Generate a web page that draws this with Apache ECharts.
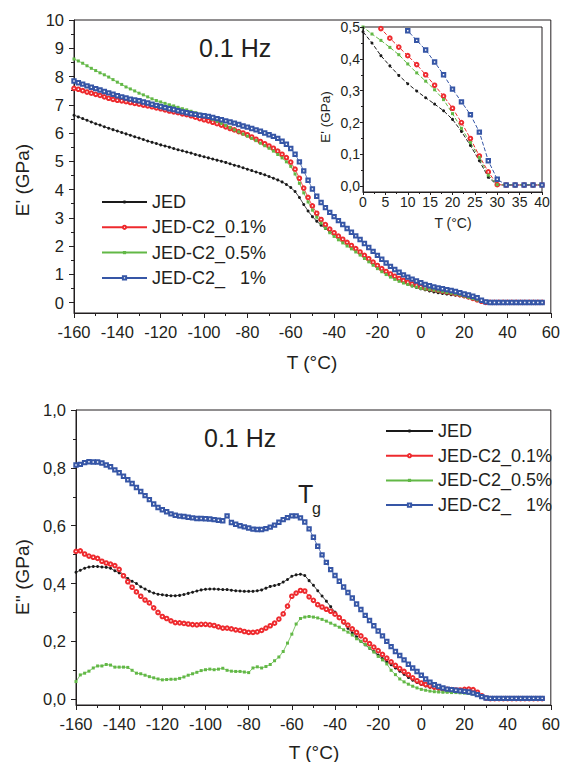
<!DOCTYPE html>
<html><head><meta charset="utf-8">
<script src="https://cdn.jsdelivr.net/npm/echarts@6/dist/echarts.min.js"></script>
<style>html,body{margin:0;padding:0;background:#fff}#c{width:563px;height:762px}</style>
</head><body><div id="c"></div>
<script>
// Temperature grid (°C)
const temps = [
-160,-158,-156,-154,-152,-150,-148,-146,-144,-142,
-140,-138,-136,-134,-132,-130,-128,-126,-124,-122,
-120,-118,-116,-114,-112,-110,-108,-106,-104,-102,
-100,-98,-96,-94,-92,-90,-88,-86,-84,-82,
-80,-78,-76,-74,-72,-70,-68,-66,-64,-62,
-60,-58,-56,-54,-52,-50,-48,-46,-44,-42,
-40,-38,-36,-34,-32,-30,-28,-26,-24,-22,
-20,-18,-16,-14,-12,-10,-8,-6,-4,-2,
0,2,4,6,8,10,12,14,16,18,
20,22,24,26,28,30,32,34,36,38,
40,42,44,46,48,50,52,54,56];

const seriesNames = ['JED','JED-C2_0.1%','JED-C2_0.5%','JED-C2_\u00a0\u00a0\u00a01%'];

// E' storage modulus (GPa)
const storageJED = [
6.63,6.57,6.51,6.45,6.39,6.33,6.28,6.22,6.17,6.12,
6.07,6.02,5.97,5.92,5.87,5.82,5.77,5.72,5.67,5.63,
5.58,5.54,5.50,5.45,5.41,5.37,5.33,5.29,5.24,5.20,
5.16,5.12,5.08,5.04,5.00,4.96,4.91,4.86,4.82,4.77,
4.72,4.67,4.62,4.57,4.52,4.46,4.40,4.34,4.27,4.18,
4.07,3.93,3.72,3.47,3.24,3.04,2.88,2.74,2.62,2.51,
2.42,2.32,2.22,2.12,2.02,1.92,1.80,1.66,1.52,1.38,
1.26,1.14,1.04,0.95,0.87,0.79,0.72,0.65,0.59,0.535,
0.485,0.45,0.41,0.378,0.348,0.322,0.299,0.278,0.258,0.237,
0.21,0.172,0.128,0.08,0.028,0.004,0.004,0.004,0.004,0.004,
0.004,0.004,0.004,0.004,0.004,0.004,0.004,0.004,0.004];
const storageC2_01 = [
7.58,7.55,7.50,7.45,7.41,7.37,7.33,7.28,7.23,7.19,
7.16,7.14,7.11,7.08,7.05,7.02,6.99,6.96,6.93,6.89,
6.86,6.82,6.78,6.75,6.72,6.68,6.65,6.61,6.56,6.51,
6.47,6.43,6.38,6.33,6.28,6.22,6.16,6.11,6.05,6.00,
5.94,5.86,5.78,5.70,5.62,5.54,5.46,5.36,5.25,5.13,
4.97,4.72,4.40,4.05,3.72,3.42,3.16,2.94,2.76,2.60,
2.47,2.35,2.24,2.13,2.02,1.91,1.79,1.67,1.55,1.43,
1.31,1.20,1.10,1.01,0.93,0.85,0.78,0.72,0.66,0.61,
0.56,0.525,0.495,0.465,0.437,0.41,0.382,0.35,0.317,0.283,
0.245,0.2,0.15,0.095,0.045,0.005,0.004,0.004,0.004,0.004,
0.004,0.004,0.004,0.004,0.004,0.004,0.004,0.004,0.004];
const storageC2_05 = [
8.62,8.55,8.47,8.38,8.29,8.21,8.13,8.06,7.98,7.89,
7.80,7.72,7.63,7.56,7.49,7.41,7.35,7.28,7.21,7.15,
7.10,7.05,7.00,6.96,6.91,6.86,6.82,6.77,6.72,6.67,
6.61,6.55,6.48,6.41,6.34,6.27,6.19,6.11,6.04,5.96,
5.89,5.81,5.73,5.64,5.55,5.46,5.36,5.24,5.12,4.98,
4.82,4.55,4.22,3.88,3.56,3.27,3.02,2.81,2.63,2.47,
2.34,2.22,2.11,2.00,1.90,1.79,1.68,1.56,1.44,1.32,
1.20,1.09,0.99,0.90,0.82,0.75,0.69,0.64,0.59,0.545,
0.50,0.478,0.458,0.436,0.413,0.384,0.356,0.33,0.303,0.272,
0.228,0.182,0.137,0.09,0.035,0.005,0.005,0.005,0.005,0.005,
0.005,0.005,0.005,0.005,0.005,0.005,0.005,0.005,0.005];
const storageC2_1 = [
7.84,7.78,7.73,7.67,7.62,7.57,7.52,7.47,7.42,7.37,
7.32,7.28,7.24,7.20,7.17,7.14,7.10,7.06,7.02,6.98,
6.94,6.90,6.86,6.83,6.79,6.75,6.72,6.68,6.66,6.63,
6.61,6.59,6.55,6.51,6.47,6.43,6.39,6.35,6.30,6.25,
6.21,6.16,6.11,6.06,6.00,5.94,5.88,5.81,5.71,5.60,
5.45,5.25,4.98,4.66,4.33,4.02,3.76,3.54,3.36,3.19,
3.04,2.90,2.76,2.62,2.49,2.36,2.23,2.09,1.95,1.81,
1.67,1.53,1.40,1.28,1.17,1.07,0.98,0.90,0.83,0.76,
0.70,0.64,0.595,0.555,0.52,0.488,0.458,0.428,0.39,0.35,
0.305,0.265,0.225,0.17,0.08,0.022,0.004,0.004,0.004,0.004,
0.004,0.004,0.004,0.004,0.004,0.004,0.004,0.004,0.004];

// E'' loss modulus (GPa)
const lossJED = [
0.439,0.446,0.453,0.457,0.459,0.459,0.457,0.456,0.453,0.444,
0.437,0.429,0.417,0.408,0.400,0.389,0.381,0.373,0.367,0.363,
0.361,0.359,0.358,0.358,0.359,0.362,0.366,0.370,0.374,0.378,
0.380,0.381,0.381,0.380,0.379,0.379,0.377,0.375,0.374,0.373,
0.373,0.373,0.375,0.378,0.384,0.390,0.393,0.397,0.405,0.414,
0.425,0.430,0.432,0.428,0.410,0.394,0.375,0.357,0.339,0.320,
0.301,0.283,0.264,0.245,0.230,0.216,0.200,0.188,0.176,0.165,
0.153,0.141,0.130,0.119,0.108,0.097,0.086,0.075,0.066,0.058,
0.051,0.046,0.041,0.038,0.035,0.032,0.030,0.028,0.026,0.025,
0.024,0.023,0.020,0.015,0.008,0.003,0.002,0.002,0.002,0.002,
0.002,0.002,0.002,0.002,0.002,0.002,0.002,0.002,0.002];
const lossC2_01 = [
0.511,0.513,0.502,0.495,0.491,0.487,0.477,0.471,0.467,0.462,
0.449,0.427,0.406,0.387,0.371,0.356,0.343,0.333,0.316,0.300,
0.286,0.279,0.271,0.265,0.264,0.262,0.260,0.258,0.257,0.259,
0.259,0.257,0.255,0.250,0.246,0.246,0.243,0.240,0.238,0.234,
0.231,0.231,0.233,0.238,0.246,0.254,0.263,0.277,0.295,0.322,
0.356,0.367,0.376,0.374,0.354,0.342,0.327,0.319,0.311,0.304,
0.294,0.282,0.268,0.256,0.243,0.231,0.219,0.205,0.192,0.180,
0.168,0.155,0.142,0.129,0.117,0.106,0.096,0.085,0.074,0.064,
0.056,0.051,0.046,0.042,0.039,0.036,0.034,0.033,0.032,0.032,
0.034,0.035,0.033,0.024,0.012,0.004,0.002,0.002,0.002,0.002,
0.002,0.002,0.002,0.002,0.002,0.002,0.002,0.002,0.002];
const lossC2_05 = [
0.061,0.084,0.090,0.097,0.108,0.115,0.115,0.120,0.118,0.111,
0.111,0.111,0.110,0.100,0.090,0.088,0.083,0.078,0.074,0.070,
0.067,0.068,0.069,0.069,0.072,0.077,0.083,0.088,0.093,0.099,
0.102,0.104,0.102,0.104,0.107,0.100,0.097,0.096,0.096,0.094,
0.092,0.108,0.112,0.108,0.113,0.120,0.133,0.146,0.165,0.194,
0.225,0.260,0.279,0.284,0.286,0.284,0.281,0.276,0.270,0.263,
0.256,0.249,0.240,0.232,0.222,0.209,0.200,0.189,0.177,0.163,
0.148,0.136,0.122,0.100,0.085,0.070,0.060,0.052,0.045,0.039,
0.034,0.031,0.028,0.026,0.025,0.024,0.024,0.023,0.023,0.022,
0.021,0.020,0.018,0.014,0.008,0.003,0.002,0.002,0.002,0.002,
0.002,0.002,0.002,0.002,0.002,0.002,0.002,0.002,0.002];
const lossC2_1 = [
0.810,0.812,0.818,0.821,0.820,0.820,0.817,0.810,0.804,0.793,
0.783,0.771,0.759,0.746,0.732,0.718,0.704,0.690,0.675,0.663,
0.655,0.648,0.641,0.636,0.633,0.632,0.629,0.627,0.625,0.625,
0.624,0.623,0.621,0.619,0.617,0.634,0.611,0.605,0.600,0.596,
0.592,0.588,0.587,0.587,0.590,0.595,0.602,0.612,0.621,0.628,
0.634,0.634,0.627,0.613,0.589,0.560,0.529,0.499,0.473,0.448,
0.428,0.408,0.388,0.369,0.350,0.329,0.310,0.290,0.272,0.254,
0.236,0.219,0.200,0.182,0.165,0.151,0.136,0.121,0.108,0.096,
0.083,0.070,0.059,0.050,0.044,0.039,0.035,0.033,0.031,0.029,
0.027,0.025,0.021,0.016,0.009,0.004,0.003,0.003,0.003,0.003,
0.003,0.003,0.003,0.003,0.003,0.003,0.003,0.003,0.003];

// Tick values
const storageTicks = [0,1,2,3,4,5,6,7,8,9,10];
const storageMinorTicks = [0.5,1.5,2.5,3.5,4.5,5.5,6.5,7.5,8.5,9.5];
const lossTicks = [0,0.2,0.4,0.6,0.8,1.0];
const lossMinorTicks = [0.1,0.3,0.5,0.7,0.9];
const insetYTicks = [0,0.1,0.2,0.3,0.4,0.5];
const insetYMinorTicks = [0.05,0.15,0.25,0.35,0.45];

const storageSets = [storageJED, storageC2_01, storageC2_05, storageC2_1];
const lossSets = [lossJED, lossC2_01, lossC2_05, lossC2_1];

const FONT = "'Liberation Sans', Arial, Helvetica, sans-serif";
const INK = '#231f20';
const styles = [
  {color:'#1a1a1a', symbol:'circle', size:3, bw:0},
  {color:'#ee2a2e', symbol:'emptyCircle', size:3.6, bw:0.8},
  {color:'#62b846', symbol:'rect', size:3, bw:0},
  {color:'#3656a6', symbol:'emptyRect', size:3.4, bw:0.8}
];
function pairs(vals){ return temps.map(function(t,i){ return [t, vals[i]]; }); }
const comma = function(v){ return v.toFixed(1).replace('.', ','); };

function xAxis(grid, min, max, interval, fs, margin, tl, ml){
  return {type:'value', gridIndex:grid, min:min, max:max, interval:interval,
    axisLine:{show:true, onZero:false, lineStyle:{color:INK, width:1}},
    axisTick:{show:true, inside:false, length:tl, lineStyle:{color:INK}},
    minorTick:{show:true, splitNumber:2, length:ml, lineStyle:{color:INK}},
    splitLine:{show:false}, minorSplitLine:{show:false},
    axisLabel:{fontSize:fs, color:INK, fontFamily:FONT, margin:margin}};
}
function yAxis(grid, min, max, ticks, fmt, fs, margin, tl){
  return {type:'value', gridIndex:grid, min:min, max:max, position:'left',
    axisLine:{show:true, onZero:false, lineStyle:{color:INK, width:1}},
    axisTick:{show:true, inside:false, length:tl, customValues:ticks, lineStyle:{color:INK}},
    splitLine:{show:false},
    axisLabel:{customValues:ticks, formatter:fmt, fontSize:fs, color:INK, fontFamily:FONT, margin:margin}};
}
function yMinor(grid, min, max, ticks, tl){
  return {type:'value', gridIndex:grid, min:min, max:max, position:'left',
    axisLine:{show:false, onZero:false}, splitLine:{show:false}, axisLabel:{show:false},
    axisTick:{show:true, inside:false, length:tl, customValues:ticks, lineStyle:{color:INK}}};
}

const series = [];
storageSets.forEach(function(vals, i){
  const s = styles[i];
  series.push({type:'line', name:seriesNames[i], xAxisIndex:0, yAxisIndex:0, data:pairs(vals),
    symbol:s.symbol, symbolSize:s.size, showAllSymbol:true, clip:true, z:2,
    lineStyle:{color:s.color, width:0.8}, itemStyle:{color:s.color, borderWidth:s.bw}});
});
storageSets.forEach(function(vals, i){
  const s = styles[i];
  series.push({type:'line', name:seriesNames[i], xAxisIndex:1, yAxisIndex:2, data:pairs(vals),
    symbol:s.symbol, symbolSize:s.size, showAllSymbol:true, clip:true, z:4,
    lineStyle:{color:s.color, width:1, type:[4,2]}, itemStyle:{color:s.color, borderWidth:s.bw}});
});
lossSets.forEach(function(vals, i){
  const s = styles[i];
  series.push({type:'line', name:seriesNames[i], xAxisIndex:2, yAxisIndex:4, data:pairs(vals),
    symbol:s.symbol, symbolSize:s.size, showAllSymbol:true, clip:true, z:2,
    lineStyle:{color:s.color, width:0.8}, itemStyle:{color:s.color, borderWidth:s.bw}});
});

const txt = function(x, y, text, fs, align, rot){
  return {type:'text', x:x, y:y, rotation:rot||0, z:10,
    style:{text:text, fontSize:fs, fontFamily:FONT, fill:INK, align:align||'center', verticalAlign:'middle'}};
};

const chart = echarts.init(document.getElementById('c'), null, {renderer:'svg', width:563, height:762});
chart.setOption({
  animation:false,
  backgroundColor:'#ffffff',
  grid:[
    {left:74, top:20, width:477, height:293, show:true, borderColor:INK, borderWidth:1, backgroundColor:'transparent'},
    {left:363, top:27, width:179, height:165, show:true, borderColor:INK, borderWidth:1, backgroundColor:'#ffffff', z:3},
    {left:76, top:410, width:479, height:295, show:true, borderColor:INK, borderWidth:1, backgroundColor:'transparent'}
  ],
  xAxis:[
    xAxis(0, -160, 60, 20, 16.5, 10, 5, 3),
    Object.assign(xAxis(1, 0, 40, 5, 14, 3, 3, 2), {z:5}),
    xAxis(2, -160, 60, 20, 16.5, 10, 5, 3)
  ],
  yAxis:[
    yAxis(0, -0.37, 10, storageTicks, function(v){return String(v);}, 16.5, 10, 5),
    yMinor(0, -0.37, 10, storageMinorTicks, 3),
    Object.assign(yAxis(1, -0.018, 0.5, insetYTicks, comma, 14, 3, 3), {z:5}),
    Object.assign(yMinor(1, -0.018, 0.5, insetYMinorTicks, 2), {z:5}),
    yAxis(2, -0.02, 1.0, lossTicks, comma, 16.5, 10, 5),
    yMinor(2, -0.02, 1.0, lossMinorTicks, 3)
  ],
  legend:[
    {data:seriesNames, orient:'vertical', left:96, top:188, itemWidth:45, itemHeight:4, itemGap:7.3,
     selectedMode:false, textStyle:{fontSize:18, lineHeight:18, color:INK, fontFamily:FONT}},
    {data:seriesNames, orient:'vertical', left:380, top:417, itemWidth:47, itemHeight:4, itemGap:6.7,
     selectedMode:false, textStyle:{fontSize:18, lineHeight:18, color:INK, fontFamily:FONT}}
  ],
  graphic:[
    txt(199, 48, '0.1 Hz', 25, 'left'),
    txt(22, 180, "E' (GPa)", 19, 'center', Math.PI/2),
    txt(312, 362, 'T (\u00b0C)', 19),
    txt(325, 117, "E' (GPa)", 13.5, 'center', Math.PI/2),
    txt(453, 223, 'T (\u00b0C)', 14),
    txt(204, 438, '0.1 Hz', 25, 'left'),
    txt(22, 577, "E'' (GPa)", 19, 'center', Math.PI/2),
    txt(314, 752, 'T (\u00b0C)', 19),
    txt(298, 494, 'T', 25, 'left'),
    txt(312, 508, 'g', 16, 'left')
  ],
  series:series
});
</script></body></html>
